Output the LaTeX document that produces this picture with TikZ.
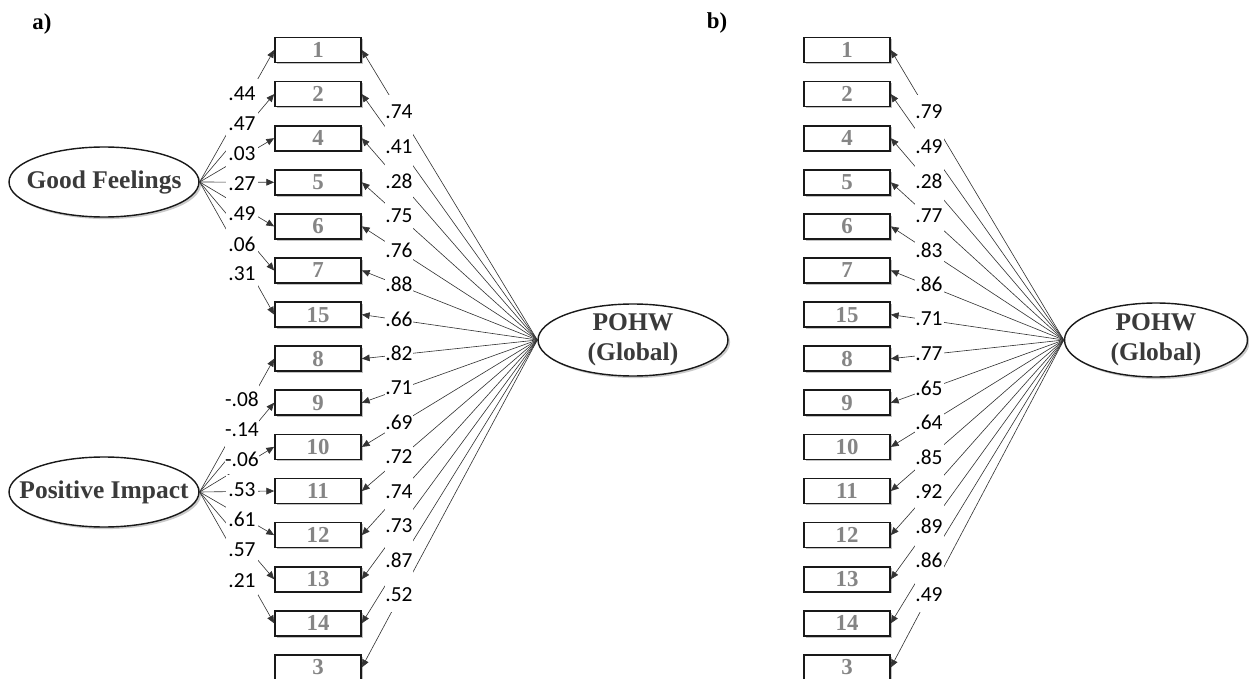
\documentclass[tikz,border=0pt]{standalone}
\usepackage{fontspec}
\setmainfont{Liberation Serif}
\newfontfamily\coeffont{Carlito}
\usepackage{tikz}
\usetikzlibrary{arrows.meta,shapes.geometric,shadows}
\definecolor{semink}{HTML}{3A3A3A}
\definecolor{semgray}{HTML}{858585}

\tikzset{
  item/.style={draw=black!90, line width=1pt, fill=white,
    minimum width=1.72cm, minimum height=0.5cm, inner sep=0pt,
    font=\fontsize{13}{13}\selectfont\bfseries, text=semgray,
    drop shadow={shadow xshift=1pt, shadow yshift=-1pt, fill=black!40, opacity=.6}},
  factor/.style={ellipse, draw=black!90, line width=0.8pt, fill=white, inner sep=0pt,
    drop shadow={shadow xshift=1.2pt, shadow yshift=-1.2pt, fill=black!35, opacity=.6}},
  factortext/.style={font=\fontsize{14.5}{17}\selectfont\bfseries, text=semink, align=center},
  load/.style={-{Triangle[length=4.4pt,width=3.8pt]}, draw=black!80, line width=0.35pt},
  coef/.style={fill=white, inner sep=0pt, font=\coeffont\fontsize{12.2}{13}\selectfont},
  tag/.style={font=\fontsize{13}{14}\selectfont\bfseries}
}

\begin{document}
\begin{tikzpicture}[x=0.02cm, y=-0.02cm]
  \useasboundingbox (0,0) rectangle (1249,679);

  % panel tags
  \node[tag] (taga) at (42,24) {a)};
  \node[tag] (tagb) at (717,23) {b)};

  % observed items, both panels
  \foreach \n [count=\i from 0] in {1,2,4,5,6,7,15,8,9,10,11,12,13,14,3} {
    \node[item] (a\n) at (318,{50+44.1*\i}) {\n};
    \node[item] (b\n) at (847,{50+44.1*\i}) {\n};
  }

  % latent factors
  \node[factor, minimum width=3.8cm, minimum height=1.4cm,
    label={[factortext]center:Good Feelings}] (good) at (104,182) {};
  \node[factor, minimum width=3.8cm, minimum height=1.4cm,
    label={[factortext]center:Positive Impact}] (impact) at (104,492) {};
  \node[factor, minimum width=3.8cm, minimum height=1.44cm,
    label={[factortext]center:POHW\\(Global)}] (pohwa) at (633,340) {};
  \node[factor, minimum width=3.66cm, minimum height=1.48cm,
    label={[factortext]center:POHW\\(Global)}] (pohwb) at (1156,340) {};

  % paths
  \foreach \n in {1,2,4,5,6,7,15}
    \draw[load] (good.east) -- (a\n.west);
  \foreach \n in {8,...,14}
    \draw[load] (impact.east) -- (a\n.west);
  \foreach \n in {1,...,15} {
    \draw[load] (pohwa.west) -- (a\n.east);
    \draw[load] (pohwb.west) -- (b\n.east);
  }

  % loadings
  \foreach \v [count=\i from 0] in {.44,.47,.03,.27,.49,.06,.31}
    \node[coef, minimum width=0.64cm, minimum height=0.6cm] (gl\i) at (242,{94+30*\i}) {\v};
  \foreach \v [count=\i from 0] in {-.08,-.14,-.06,.53,.61,.57,.21}
    \node[coef, minimum width=0.64cm, minimum height=0.6cm] (il\i) at (242,{399+30.2*\i}) {\v};
  \foreach \v [count=\i from 0] in {.74,.41,.28,.75,.76,.88,.66,.82,.71,.69,.72,.74,.73,.87,.52}
    \node[coef, minimum width=0.58cm, minimum height=0.69cm] (pa\i) at (399,{112+34.5*\i}) {\v};
  \foreach \v [count=\i from 0] in {.79,.49,.28,.77,.83,.86,.71,.77,.65,.64,.85,.92,.89,.86,.49}
    \node[coef, minimum width=0.58cm, minimum height=0.69cm] (pb\i) at (929,{112+34.5*\i}) {\v};
\end{tikzpicture}
\end{document}
